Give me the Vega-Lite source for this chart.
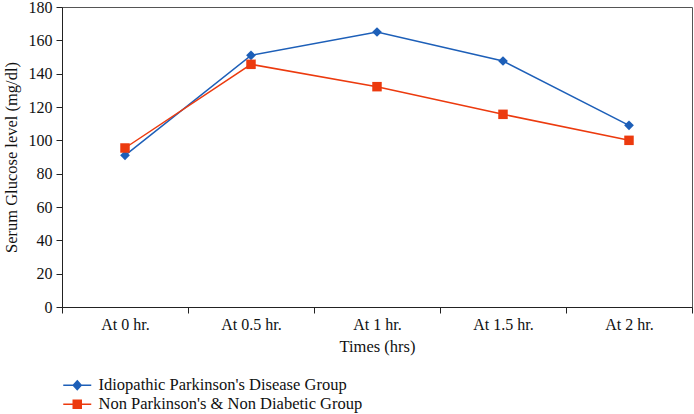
{
  "$schema": "https://vega.github.io/schema/vega-lite/v6.json",
  "width": 630,
  "height": 300,
  "autosize": {"type": "none"},
  "padding": {"left": 62, "top": 7, "right": 2, "bottom": 107},
  "config": {
    "font": "Liberation Serif",
    "view": {"stroke": "#555", "strokeWidth": 1},
    "axis": {
      "labelFont": "Liberation Serif",
      "titleFont": "Liberation Serif",
      "labelFontSize": 16,
      "titleFontSize": 16.5,
      "labelColor": "#111",
      "titleColor": "#111",
      "titleFontWeight": "normal",
      "domainColor": "#222",
      "tickColor": "#222",
      "tickSize": 6,
      "grid": false
    },
    "legend": {"labelFont": "Liberation Serif", "labelFontSize": 16.5, "labelColor": "#111", "labelLimit": 0}
  },
  "data": {
    "values": [
      {"time": "At 0 hr.", "group": "Idiopathic Parkinson's Disease Group", "glucose": 91},
      {"time": "At 0.5 hr.", "group": "Idiopathic Parkinson's Disease Group", "glucose": 151},
      {"time": "At 1 hr.", "group": "Idiopathic Parkinson's Disease Group", "glucose": 165},
      {"time": "At 1.5 hr.", "group": "Idiopathic Parkinson's Disease Group", "glucose": 147.6},
      {"time": "At 2 hr.", "group": "Idiopathic Parkinson's Disease Group", "glucose": 109},
      {"time": "At 0 hr.", "group": "Non Parkinson's & Non Diabetic Group", "glucose": 95.4},
      {"time": "At 0.5 hr.", "group": "Non Parkinson's & Non Diabetic Group", "glucose": 145.6},
      {"time": "At 1 hr.", "group": "Non Parkinson's & Non Diabetic Group", "glucose": 132.2},
      {"time": "At 1.5 hr.", "group": "Non Parkinson's & Non Diabetic Group", "glucose": 115.6},
      {"time": "At 2 hr.", "group": "Non Parkinson's & Non Diabetic Group", "glucose": 100}
    ]
  },
  "encoding": {
    "x": {
      "field": "time",
      "type": "ordinal",
      "sort": ["At 0 hr.", "At 0.5 hr.", "At 1 hr.", "At 1.5 hr.", "At 2 hr."],
      "scale": {"type": "band", "paddingInner": 0, "paddingOuter": 0},
      "axis": {"title": "Times (hrs)", "labelAngle": 0, "tickBand": "extent", "labelPadding": 3, "titlePadding": 6}
    },
    "y": {
      "field": "glucose",
      "type": "quantitative",
      "scale": {"domain": [0, 180], "nice": false},
      "axis": {"title": "Serum Glucose level (mg/dl)", "values": [0, 20, 40, 60, 80, 100, 120, 140, 160, 180], "labelPadding": 4, "titlePadding": 9}
    },
    "color": {
      "field": "group",
      "type": "nominal",
      "scale": {
        "domain": ["Idiopathic Parkinson's Disease Group", "Non Parkinson's & Non Diabetic Group"],
        "range": ["#1d5fb8", "#ec3a0e"]
      },
      "legend": {
        "title": null,
        "orient": "none",
        "legendX": 0,
        "legendY": 370,
        "padding": 0,
        "symbolSize": 196,
        "labelOffset": 20,
        "rowPadding": 2,
        "symbolStrokeWidth": 1.5
      }
    }
  },
  "layer": [
    {"mark": {"type": "line", "strokeWidth": 1.5}},
    {
      "transform": [{"filter": "datum.group === \"Idiopathic Parkinson's Disease Group\""}],
      "mark": {"type": "point", "filled": true, "opacity": 1, "shape": "diamond", "size": 95}
    },
    {
      "transform": [{"filter": "datum.group !== \"Idiopathic Parkinson's Disease Group\""}],
      "mark": {"type": "point", "filled": true, "opacity": 1, "shape": "square", "size": 90}
    },
    {
      "transform": [{"filter": "datum.glucose < 0"}],
      "mark": {"type": "point", "filled": true, "opacity": 1, "strokeWidth": 1.5},
      "encoding": {
        "shape": {
          "field": "group",
          "type": "nominal",
          "scale": {
            "domain": ["Idiopathic Parkinson's Disease Group", "Non Parkinson's & Non Diabetic Group"],
            "range": ["M-1,0H3M1,-0.64L1.57,0L1,0.64L0.43,0Z", "M-1,0H3M0.43,-0.57H1.57V0.57H0.43Z"]
          }
        },
        "stroke": {
          "field": "group",
          "type": "nominal",
          "scale": {
            "domain": ["Idiopathic Parkinson's Disease Group", "Non Parkinson's & Non Diabetic Group"],
            "range": ["#1d5fb8", "#ec3a0e"]
          }
        }
      }
    }
  ]
}
